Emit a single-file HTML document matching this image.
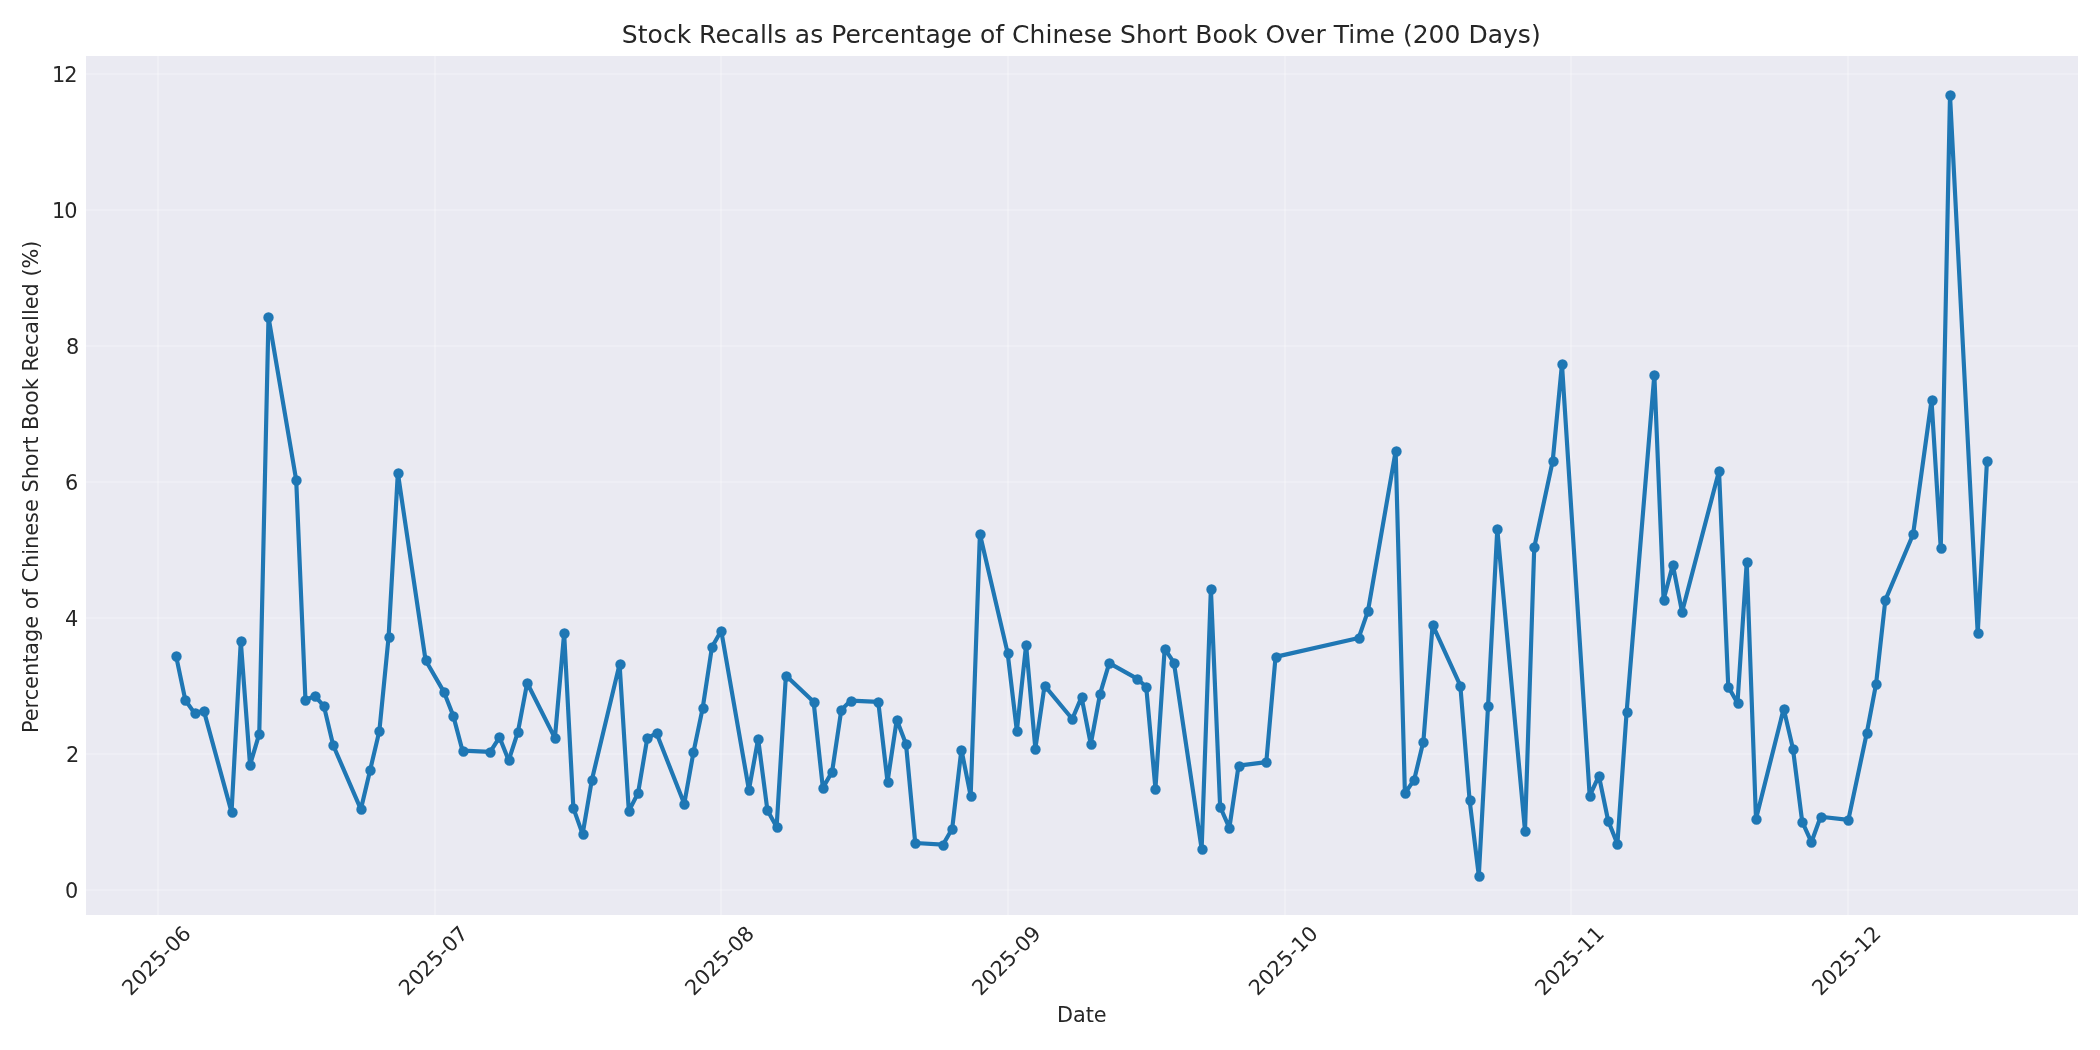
<!DOCTYPE html>
<html lang="en">
<head>
<meta charset="utf-8">
<title>Stock Recalls as Percentage of Chinese Short Book Over Time (200 Days)</title>
<style>
html,body{margin:0;padding:0;background:#fff;}
body{width:2100px;height:1050px;overflow:hidden;}
svg{display:block;will-change:transform;}
svg text{font-family:"DejaVu Sans","Liberation Sans",sans-serif;fill:#262626;}
.g{stroke:#fff;stroke-opacity:.3;stroke-width:1.6667;fill:none;stroke-linecap:round}
.tk{font-size:20.8333px}
.tt{font-size:25.0000px;letter-spacing:.02px}
.yl{letter-spacing:.01px}
.d2{letter-spacing:-1px}
</style>
</head>
<body>
<svg width="2100" height="1050" viewBox="0 0 2100 1050" role="img" aria-label="Line chart">
<rect x="0" y="0" width="2100" height="1050" fill="#ffffff"/>
<rect x="86" y="56" width="1992" height="859" fill="#eaeaf2"/>
<g class="g">
<path d="M158 915L158 56"/>
<path d="M435 915L435 56"/>
<path d="M721 915L721 56"/>
<path d="M1008 915L1008 56"/>
<path d="M1285 915L1285 56"/>
<path d="M1571 915L1571 56"/>
<path d="M1848 915L1848 56"/>
<path d="M86 890L2078 890"/>
<path d="M86 754L2078 754"/>
<path d="M86 618L2078 618"/>
<path d="M86 482L2078 482"/>
<path d="M86 346L2078 346"/>
<path d="M86 210L2078 210"/>
<path d="M86 74L2078 74"/>
</g>
<path d="M176.11 656.16L185.34 700.12L194.58 713.26L203.82 710.67L231.54 812.16L240.78 641.25L250.02 764.99L259.26 733.88L268.50 317.20L296.21 480.08L305.45 700.12L314.69 695.84L323.93 706.11L333.17 745.25L360.89 809.30L370.12 770.16L379.36 730.96L388.60 636.96L397.84 472.93L425.56 660.17L444.04 692.16L453.28 715.85L462.52 750.70L490.23 751.85L499.47 737.29L508.71 760.43L517.95 731.84L527.19 682.97L554.91 738.17L564.14 633.29L573.38 808.14L582.62 834.14L591.86 779.89L619.58 664.12L628.82 811.14L638.06 793.03L647.30 738.17L656.54 733.27L684.25 803.85L693.49 752.12L702.73 707.88L711.97 646.97L721.21 630.70L748.93 789.90L758.16 738.99L767.40 810.18L776.64 826.99L785.88 675.55L813.60 701.83L822.84 787.86L832.08 771.86L841.32 709.86L850.56 700.67L878.27 701.83L887.51 781.87L896.75 719.86L905.99 743.89L915.23 842.99L942.95 844.69L952.18 828.70L961.42 749.61L970.66 795.89L979.90 533.91L1007.62 652.89L1016.86 730.96L1026.10 644.86L1035.34 748.65L1044.58 685.56L1072.29 718.98L1081.53 697.13L1090.77 744.16L1100.01 694.07L1109.25 663.17L1136.97 678.68L1146.20 686.72L1155.44 788.74L1164.68 648.67L1173.92 662.69L1201.64 848.98L1210.88 588.84L1220.12 806.71L1229.36 827.88L1238.59 765.60L1266.31 762.13L1275.55 656.90L1358.70 637.91L1367.94 611.17L1395.66 451.15L1404.90 793.30L1414.14 779.89L1423.38 741.58L1432.61 624.98L1460.33 685.56L1469.57 799.91L1478.81 875.86L1488.05 705.84L1497.29 529.08L1525.01 830.74L1534.24 547.32L1552.72 461.02L1561.96 364.16L1589.68 795.89L1598.92 775.88L1608.16 820.73L1617.40 843.87L1626.63 711.83L1654.35 374.78L1663.59 599.80L1672.83 564.81L1682.07 611.91L1719.03 471.02L1728.26 686.72L1737.50 702.98L1746.74 562.23L1755.98 819.03L1783.70 708.70L1792.94 748.65L1802.18 821.62L1811.42 842.17L1820.65 816.72L1848.37 819.85L1866.85 732.73L1876.09 683.86L1885.33 600.14L1913.05 534.46L1931.52 400.37L1940.76 548.48L1950.00 95.04L1977.72 633.35L1986.96 461.22" fill="none" stroke="#1f77b4" stroke-width="4.1667" stroke-linejoin="round" stroke-linecap="round"/>
<g fill="#1f77b4" stroke="#1f77b4" stroke-width="2.0833">
<circle cx="176.5" cy="656.5" r="4.1667"/>
<circle cx="185.5" cy="700.5" r="4.1667"/>
<circle cx="195.5" cy="713.5" r="4.1667"/>
<circle cx="204.5" cy="711.5" r="4.1667"/>
<circle cx="232.5" cy="812.5" r="4.1667"/>
<circle cx="241.5" cy="641.5" r="4.1667"/>
<circle cx="250.5" cy="765.5" r="4.1667"/>
<circle cx="259.5" cy="734.5" r="4.1667"/>
<circle cx="268.5" cy="317.5" r="4.1667"/>
<circle cx="296.5" cy="480.5" r="4.1667"/>
<circle cx="305.5" cy="700.5" r="4.1667"/>
<circle cx="315.5" cy="696.5" r="4.1667"/>
<circle cx="324.5" cy="706.5" r="4.1667"/>
<circle cx="333.5" cy="745.5" r="4.1667"/>
<circle cx="361.5" cy="809.5" r="4.1667"/>
<circle cx="370.5" cy="770.5" r="4.1667"/>
<circle cx="379.5" cy="731.5" r="4.1667"/>
<circle cx="389.5" cy="637.5" r="4.1667"/>
<circle cx="398.5" cy="473.5" r="4.1667"/>
<circle cx="426.5" cy="660.5" r="4.1667"/>
<circle cx="444.5" cy="692.5" r="4.1667"/>
<circle cx="453.5" cy="716.5" r="4.1667"/>
<circle cx="463.5" cy="751.5" r="4.1667"/>
<circle cx="490.5" cy="752.5" r="4.1667"/>
<circle cx="499.5" cy="737.5" r="4.1667"/>
<circle cx="509.5" cy="760.5" r="4.1667"/>
<circle cx="518.5" cy="732.5" r="4.1667"/>
<circle cx="527.5" cy="683.5" r="4.1667"/>
<circle cx="555.5" cy="738.5" r="4.1667"/>
<circle cx="564.5" cy="633.5" r="4.1667"/>
<circle cx="573.5" cy="808.5" r="4.1667"/>
<circle cx="583.5" cy="834.5" r="4.1667"/>
<circle cx="592.5" cy="780.5" r="4.1667"/>
<circle cx="620.5" cy="664.5" r="4.1667"/>
<circle cx="629.5" cy="811.5" r="4.1667"/>
<circle cx="638.5" cy="793.5" r="4.1667"/>
<circle cx="647.5" cy="738.5" r="4.1667"/>
<circle cx="657.5" cy="733.5" r="4.1667"/>
<circle cx="684.5" cy="804.5" r="4.1667"/>
<circle cx="693.5" cy="752.5" r="4.1667"/>
<circle cx="703.5" cy="708.5" r="4.1667"/>
<circle cx="712.5" cy="647.5" r="4.1667"/>
<circle cx="721.5" cy="631.5" r="4.1667"/>
<circle cx="749.5" cy="790.5" r="4.1667"/>
<circle cx="758.5" cy="739.5" r="4.1667"/>
<circle cx="767.5" cy="810.5" r="4.1667"/>
<circle cx="777.5" cy="827.5" r="4.1667"/>
<circle cx="786.5" cy="676.5" r="4.1667"/>
<circle cx="814.5" cy="702.5" r="4.1667"/>
<circle cx="823.5" cy="788.5" r="4.1667"/>
<circle cx="832.5" cy="772.5" r="4.1667"/>
<circle cx="841.5" cy="710.5" r="4.1667"/>
<circle cx="851.5" cy="701.5" r="4.1667"/>
<circle cx="878.5" cy="702.5" r="4.1667"/>
<circle cx="888.5" cy="782.5" r="4.1667"/>
<circle cx="897.5" cy="720.5" r="4.1667"/>
<circle cx="906.5" cy="744.5" r="4.1667"/>
<circle cx="915.5" cy="843.5" r="4.1667"/>
<circle cx="943.5" cy="845.5" r="4.1667"/>
<circle cx="952.5" cy="829.5" r="4.1667"/>
<circle cx="961.5" cy="750.5" r="4.1667"/>
<circle cx="971.5" cy="796.5" r="4.1667"/>
<circle cx="980.5" cy="534.5" r="4.1667"/>
<circle cx="1008.5" cy="653.5" r="4.1667"/>
<circle cx="1017.5" cy="731.5" r="4.1667"/>
<circle cx="1026.5" cy="645.5" r="4.1667"/>
<circle cx="1035.5" cy="749.5" r="4.1667"/>
<circle cx="1045.5" cy="686.5" r="4.1667"/>
<circle cx="1072.5" cy="719.5" r="4.1667"/>
<circle cx="1082.5" cy="697.5" r="4.1667"/>
<circle cx="1091.5" cy="744.5" r="4.1667"/>
<circle cx="1100.5" cy="694.5" r="4.1667"/>
<circle cx="1109.5" cy="663.5" r="4.1667"/>
<circle cx="1137.5" cy="679.5" r="4.1667"/>
<circle cx="1146.5" cy="687.5" r="4.1667"/>
<circle cx="1155.5" cy="789.5" r="4.1667"/>
<circle cx="1165.5" cy="649.5" r="4.1667"/>
<circle cx="1174.5" cy="663.5" r="4.1667"/>
<circle cx="1202.5" cy="849.5" r="4.1667"/>
<circle cx="1211.5" cy="589.5" r="4.1667"/>
<circle cx="1220.5" cy="807.5" r="4.1667"/>
<circle cx="1229.5" cy="828.5" r="4.1667"/>
<circle cx="1239.5" cy="766.5" r="4.1667"/>
<circle cx="1266.5" cy="762.5" r="4.1667"/>
<circle cx="1276.5" cy="657.5" r="4.1667"/>
<circle cx="1359.5" cy="638.5" r="4.1667"/>
<circle cx="1368.5" cy="611.5" r="4.1667"/>
<circle cx="1396.5" cy="451.5" r="4.1667"/>
<circle cx="1405.5" cy="793.5" r="4.1667"/>
<circle cx="1414.5" cy="780.5" r="4.1667"/>
<circle cx="1423.5" cy="742.5" r="4.1667"/>
<circle cx="1433.5" cy="625.5" r="4.1667"/>
<circle cx="1460.5" cy="686.5" r="4.1667"/>
<circle cx="1470.5" cy="800.5" r="4.1667"/>
<circle cx="1479.5" cy="876.5" r="4.1667"/>
<circle cx="1488.5" cy="706.5" r="4.1667"/>
<circle cx="1497.5" cy="529.5" r="4.1667"/>
<circle cx="1525.5" cy="831.5" r="4.1667"/>
<circle cx="1534.5" cy="547.5" r="4.1667"/>
<circle cx="1553.5" cy="461.5" r="4.1667"/>
<circle cx="1562.5" cy="364.5" r="4.1667"/>
<circle cx="1590.5" cy="796.5" r="4.1667"/>
<circle cx="1599.5" cy="776.5" r="4.1667"/>
<circle cx="1608.5" cy="821.5" r="4.1667"/>
<circle cx="1617.5" cy="844.5" r="4.1667"/>
<circle cx="1627.5" cy="712.5" r="4.1667"/>
<circle cx="1654.5" cy="375.5" r="4.1667"/>
<circle cx="1664.5" cy="600.5" r="4.1667"/>
<circle cx="1673.5" cy="565.5" r="4.1667"/>
<circle cx="1682.5" cy="612.5" r="4.1667"/>
<circle cx="1719.5" cy="471.5" r="4.1667"/>
<circle cx="1728.5" cy="687.5" r="4.1667"/>
<circle cx="1738.5" cy="703.5" r="4.1667"/>
<circle cx="1747.5" cy="562.5" r="4.1667"/>
<circle cx="1756.5" cy="819.5" r="4.1667"/>
<circle cx="1784.5" cy="709.5" r="4.1667"/>
<circle cx="1793.5" cy="749.5" r="4.1667"/>
<circle cx="1802.5" cy="822.5" r="4.1667"/>
<circle cx="1811.5" cy="842.5" r="4.1667"/>
<circle cx="1821.5" cy="817.5" r="4.1667"/>
<circle cx="1848.5" cy="820.5" r="4.1667"/>
<circle cx="1867.5" cy="733.5" r="4.1667"/>
<circle cx="1876.5" cy="684.5" r="4.1667"/>
<circle cx="1885.5" cy="600.5" r="4.1667"/>
<circle cx="1913.5" cy="534.5" r="4.1667"/>
<circle cx="1932.5" cy="400.5" r="4.1667"/>
<circle cx="1941.5" cy="548.5" r="4.1667"/>
<circle cx="1950.5" cy="95.5" r="4.1667"/>
<circle cx="1978.5" cy="633.5" r="4.1667"/>
<circle cx="1987.5" cy="461.5" r="4.1667"/>
</g>
<text class="tk" transform="translate(130.666 996.392) rotate(-45)">2025-06</text>
<text class="tk" transform="translate(407.587 996.392) rotate(-45)">2025-07</text>
<text class="tk" transform="translate(693.748 996.392) rotate(-45)">2025-08</text>
<text class="tk" transform="translate(980.658 996.392) rotate(-45)">2025-09</text>
<text class="tk" transform="translate(1257.579 996.392) rotate(-45)">2025-10</text>
<text class="tk" transform="translate(1543.739 996.392) rotate(-45)">2025-11</text>
<text class="tk" transform="translate(1820.661 996.392) rotate(-45)">2025-12</text>
<text class="tk" text-anchor="middle" x="1081.781" y="1022.169">Date</text>
<text class="tk" text-anchor="end" x="78.271" y="898.413">0</text>
<text class="tk" text-anchor="end" x="79.271" y="762.286">2</text>
<text class="tk" text-anchor="end" x="78.271" y="626.159">4</text>
<text class="tk" text-anchor="end" x="78.271" y="490.033">6</text>
<text class="tk" text-anchor="end" x="79.271" y="353.906">8</text>
<text class="tk d2" text-anchor="end" x="76.521" y="217.779">10</text>
<text class="tk d2" text-anchor="end" x="76.521" y="81.652">12</text>
<text class="tk yl" text-anchor="middle" transform="rotate(-90 38.094 486.828)" x="38.094" y="486.828">Percentage of Chinese Short Book Recalled (%)</text>
<text class="tt" text-anchor="middle" x="1081.281" y="43.000">Stock Recalls as Percentage of Chinese Short Book Over Time (200 Days)</text>
</svg>
</body>
</html>
